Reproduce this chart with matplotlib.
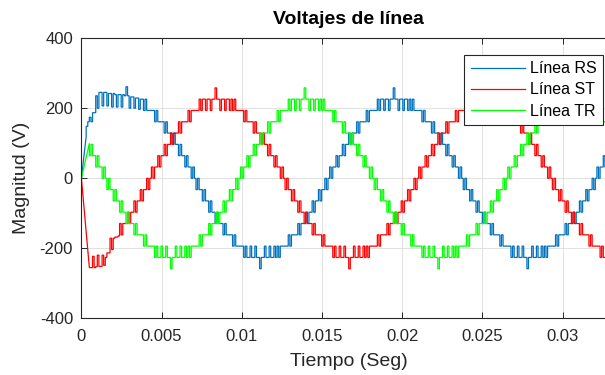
import numpy as np
import matplotlib
matplotlib.use("Agg")
import matplotlib.pyplot as plt

# ---------------- data ----------------
# Output levels of the multilevel inverter, one value per sample slot.
SLOT_S = 1.0 / 60.0 / 168.0      # sample slot length (s)
STEP_V = 32.3                    # volts per level

SERIES_NAMES = ["Línea RS", "Línea ST", "Línea TR"]
SERIES_COLORS = ["#0072BD", "#FF0000", "#00FF00"]

# start-up ramp (value at t=0, value at first slot) and first slot index
RS_START = 3
RS_RAMP = [0.0, 3.7]
ST_START = 5
ST_RAMP = [0.0, -7.9]
TR_START = 5
TR_RAMP = [0.0, 3.1]

RS_LEVELS = [
    4.6, 5.0, 5.4, 5.0, 5.8, 5.8,
    7.3, 6.2, 7.6, 7.6, 6.4, 7.6, 7.6, 6.4, 7.5, 7.5, 6.3, 7.5, 7.4, 6.3, 7.4, 7.4, 6.3, 7.4, 7.3, 8.1,
    7.3, 6.2, 7.2, 7.2, 6.2, 7.1, 7.1, 6.1, 7.0, 7.0, 6.0, 7.0, 6.0,
    6, 6, 6, 6,
    5, 6, 5, 5, 5, 5, 4, 5, 4, 4, 4, 3, 4, 3, 3, 2, 3, 2, 2, 1, 2, 1, 1,
    0, 1, 0,
    -1, 0, -1, -1, -2, -1, -2, -2, -3, -2, -3, -3, -4, -3, -4, -4, -4, -5, -4, -5, -5, -5, -5, -6, -5, -6, -6, -6, -6, -6,
    -7, -6, -7, -7, -6, -7, -7, -6, -7, -7, -8, -7, -7, -6, -7, -7, -6, -7, -7, -6, -7,
    -6, -7, -6, -6, -6, -6, -6, -5, -6, -5, -5, -5, -5, -4, -5, -4, -4, -4, -3, -4, -3, -3, -2, -3, -2, -2, -1, -2, -1, -1,
    0,
    -1, 0,
    1, 0, 1, 1, 2, 1, 2, 2, 3, 2, 3, 3, 4, 3, 4, 4, 4, 5, 4, 5, 5, 5, 5, 6, 5, 6, 6, 6, 6, 6,
    7, 6, 7, 7, 6, 7, 7, 6, 7, 7, 8, 7, 7, 6, 7, 7, 6, 7, 7, 6, 7,
    6, 7, 6, 6, 6, 6, 6, 5, 6, 5, 5, 5, 5, 4, 5, 4, 4, 4, 3, 4, 3, 3, 2, 3, 2, 2, 1, 2, 1, 1,
    0, 1, 0,
    -1, 0, -1, -1, -2, -1, -2, -2, -3, -2, -3, -3, -4, -3, -4, -4, -4, -5, -4, -5, -5, -5, -5, -6, -5, -6, -6, -6, -6, -6,
    -7, -6, -7, -7, -6, -7, -7, -6, -7, -7, -8, -7, -7, -6, -7, -7, -6, -7, -7, -6, -7,
    -6, -7, -6, -6, -6, -6, -6, -5, -6, -5, -5, -5, -5, -4, -5, -4, -4, -4, -3, -4, -3, -3, -2, -3, -2, -2, -1, -2, -1, -1,
    0,
    -1, 0, 1, 0, 1, 1, 2, 1,
]

ST_LEVELS = [
    -7.9, -7.9, -6.9, -7.9, -7.8, -6.8, -7.8, -7.8, -6.8, -7.7, -7.0, -6.6, -6.6, -5.3, -6.3, -5.3, -5.2, -5.2, -5.1,
    -4, -5, -4, -4, -4, -3, -4, -3, -3, -2, -3, -2, -2, -1, -2, -1, -1,
    0,
    -1, 0,
    1, 0, 1, 1, 2, 1, 2, 2, 3, 2, 3, 3, 4, 3, 4, 4, 4, 5, 4, 5, 5, 5, 5, 6, 5, 6, 6, 6, 6, 6,
    7, 6, 7, 7, 6, 7, 7, 6, 7, 7, 8, 7, 7, 6, 7, 7, 6, 7, 7, 6, 7,
    6, 7, 6, 6, 6, 6, 6, 5, 6, 5, 5, 5, 5, 4, 5, 4, 4, 4, 3, 4, 3, 3, 2, 3, 2, 2, 1, 2, 1, 1,
    0, 1, 0,
    -1, 0, -1, -1, -2, -1, -2, -2, -3, -2, -3, -3, -4, -3, -4, -4, -4, -5, -4, -5, -5, -5, -5, -6, -5, -6, -6, -6, -6, -6,
    -7, -6, -7, -7, -6, -7, -7, -6, -7, -7, -8, -7, -7, -6, -7, -7, -6, -7, -7, -6, -7,
    -6, -7, -6, -6, -6, -6, -6, -5, -6, -5, -5, -5, -5, -4, -5, -4, -4, -4, -3, -4, -3, -3, -2, -3, -2, -2, -1, -2, -1, -1,
    0,
    -1, 0,
    1, 0, 1, 1, 2, 1, 2, 2, 3, 2, 3, 3, 4, 3, 4, 4, 4, 5, 4, 5, 5, 5, 5, 6, 5, 6, 6, 6, 6, 6,
    7, 6, 7, 7, 6, 7, 7, 6, 7, 7, 8, 7, 7, 6, 7, 7, 6, 7, 7, 6, 7,
    6, 7, 6, 6, 6, 6, 6, 5, 6, 5, 5, 5, 5, 4, 5, 4, 4, 4, 3, 4, 3, 3, 2, 3, 2, 2, 1, 2, 1, 1,
    0, 1, 0,
    -1, 0, -1, -1, -2, -1, -2, -2, -3, -2, -3, -3, -4, -3, -4, -4, -4, -5, -4, -5, -5, -5, -5, -6, -5, -6, -6, -6, -6, -6,
    -7, -6, -7, -7,
]

TR_LEVELS = [
    2, 3, 2, 2, 1, 2, 1, 1,
    0, 1, 0,
    -1, 0, -1, -1, -2, -1, -2, -2, -3, -2, -3, -3, -4, -3, -4, -4, -4, -5, -4, -5, -5, -5, -5, -6, -5, -6, -6, -6, -6, -6,
    -7, -6, -7, -7, -6, -7, -7, -6, -7, -7, -8, -7, -7, -6, -7, -7, -6, -7, -7, -6, -7,
    -6, -7, -6, -6, -6, -6, -6, -5, -6, -5, -5, -5, -5, -4, -5, -4, -4, -4, -3, -4, -3, -3, -2, -3, -2, -2, -1, -2, -1, -1,
    0,
    -1, 0,
    1, 0, 1, 1, 2, 1, 2, 2, 3, 2, 3, 3, 4, 3, 4, 4, 4, 5, 4, 5, 5, 5, 5, 6, 5, 6, 6, 6, 6, 6,
    7, 6, 7, 7, 6, 7, 7, 6, 7, 7, 8, 7, 7, 6, 7, 7, 6, 7, 7, 6, 7,
    6, 7, 6, 6, 6, 6, 6, 5, 6, 5, 5, 5, 5, 4, 5, 4, 4, 4, 3, 4, 3, 3, 2, 3, 2, 2, 1, 2, 1, 1,
    0, 1, 0,
    -1, 0, -1, -1, -2, -1, -2, -2, -3, -2, -3, -3, -4, -3, -4, -4, -4, -5, -4, -5, -5, -5, -5, -6, -5, -6, -6, -6, -6, -6,
    -7, -6, -7, -7, -6, -7, -7, -6, -7, -7, -8, -7, -7, -6, -7, -7, -6, -7, -7, -6, -7,
    -6, -7, -6, -6, -6, -6, -6, -5, -6, -5, -5, -5, -5, -4, -5, -4, -4, -4, -3, -4, -3, -3, -2, -3, -2, -2, -1, -2, -1, -1,
    0,
    -1, 0,
    1, 0, 1, 1, 2, 1, 2, 2, 3, 2, 3, 3, 4, 3, 4, 4, 4, 5, 4, 5, 5, 5, 5, 6, 5, 6, 6, 6, 6, 6,
    7, 6, 7, 7, 6, 7, 7, 6, 7, 7, 8, 7, 7, 6, 7, 7, 6, 7, 7, 6, 7,
    6, 7, 6, 6, 6, 6, 6, 5, 6, 5, 5,
]

X_TICKS = [0, 0.005, 0.01, 0.015, 0.02, 0.025, 0.03]
X_TICK_LABELS = ["0", "0.005", "0.01", "0.015", "0.02", "0.025", "0.03"]
Y_TICKS = [-400, -200, 0, 200, 400]
Y_TICK_LABELS = ["-400", "-200", "0", "200", "400"]

TITLE = "Voltajes de línea"
X_LABEL = "Tiempo (Seg)"
Y_LABEL = "Magnitud (V)"

# ---------------- drawing ----------------
plt.rcParams["font.family"] = ["Liberation Sans", "DejaVu Sans"]

W, H = 605, 375
fig = plt.figure(figsize=(W / 100, H / 100), dpi=100)
ax_left, ax_right, ax_top, ax_bottom = 81.4, 616.0, 38.3, 318.3
ax = fig.add_axes([ax_left / W, 1 - ax_bottom / H, (ax_right - ax_left) / W, (ax_bottom - ax_top) / H])


def series_xy(start, ramp, levels):
    v = np.asarray(levels, dtype=float) * STEP_V
    n = len(v)
    tt = (start + np.arange(n + 1)) * SLOT_S
    xs = np.repeat(tt, 2)[1:-1]
    ys = np.repeat(v, 2)
    rx = np.array([0.0, start * SLOT_S])
    ry = np.asarray(ramp, dtype=float) * STEP_V
    return np.concatenate([rx, xs]), np.concatenate([ry, ys])


all_series = [(RS_START, RS_RAMP, RS_LEVELS), (ST_START, ST_RAMP, ST_LEVELS), (TR_START, TR_RAMP, TR_LEVELS)]
for (start, ramp, lev), name, col in zip(all_series, SERIES_NAMES, SERIES_COLORS):
    x, y = series_xy(start, ramp, lev)
    ax.plot(x, y, color=col, lw=0.9, label=name, solid_joinstyle="miter")

ax.set_xlim(0, 1 / 30)
ax.set_ylim(-400, 400)
ax.set_xticks(X_TICKS)
ax.set_xticklabels(X_TICK_LABELS)
ax.set_yticks(Y_TICKS)
ax.set_yticklabels(Y_TICK_LABELS)
ax.grid(True, color="#dcdcdc", lw=0.6)
ax.set_axisbelow(True)
for s in ax.spines.values():
    s.set_color("#262626")
    s.set_linewidth(0.8)
ax.tick_params(direction="in", length=4, width=0.7, colors="#262626",
               labelsize=12, top=True, right=True)
ax.tick_params(axis="x", pad=8)
ax.tick_params(axis="y", pad=6)

fig.text(348.5 / W, 1 - 19 / H, TITLE, ha="center", va="center",
         fontsize=14, fontweight="bold", color="black")
fig.text(348.5 / W, 1 - 362 / H, X_LABEL, ha="center", va="center",
         fontsize=14, color="#262626")
fig.text(22 / W, 1 - 178 / H, Y_LABEL, ha="center", va="center",
         fontsize=14, rotation=90, color="#262626")

leg = ax.legend(loc="upper right", bbox_to_anchor=(603 / W, 1 - 55 / H),
                bbox_transform=fig.transFigure, borderaxespad=0,
                fontsize=11.5, fancybox=False, framealpha=1, edgecolor="#262626",
                handlelength=3.4, handletextpad=0.3, labelspacing=0.38,
                borderpad=0.4)
leg.get_frame().set_linewidth(0.8)

fig.savefig("out.png", dpi=100)
